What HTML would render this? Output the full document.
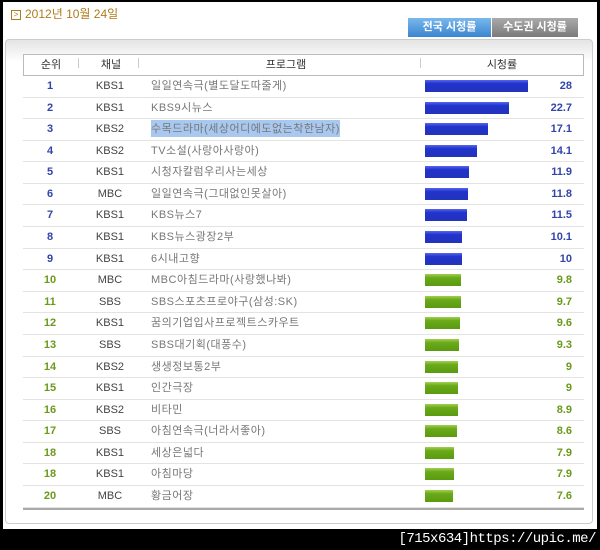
<!DOCTYPE html>
<html><head><meta charset="utf-8"><style>
*{margin:0;padding:0;box-sizing:border-box}
body{width:600px;height:550px;background:#000;position:relative;overflow:hidden;font-family:"Liberation Sans","Noto Sans CJK KR",sans-serif}
#pg{position:absolute;left:3px;top:2px;width:594px;height:527px;background:#fff}
#date{position:absolute;left:8px;top:3px;font-size:12px;color:#b07a1a}
#date span{display:inline-block;width:10px;height:10px;border:1px solid #b07a1a;font-size:8px;line-height:8px;text-align:center;margin-right:4px;vertical-align:1px}
.tab{position:absolute;top:16px;height:19px;font-size:11px;color:#fff;text-align:center;line-height:19px;font-weight:bold}
#t1{left:405px;width:83px;background:linear-gradient(#7ab8ec,#3a84d0)}
#t2{left:489px;width:86px;background:linear-gradient(#aaa,#7a7a7a)}
#box{position:absolute;left:2px;top:37px;width:588px;height:485px;border:1px solid #ccc;border-radius:4px;background:linear-gradient(#e4e4e4,#fff 22px)}
#hd{position:absolute;left:17px;top:14px;width:561px;height:22px;border:1px solid #bbb;background:#fff;font-size:11px;color:#333}
#hd div{position:absolute;top:3px;text-align:center;line-height:14px}
.sep{position:absolute;top:6px;width:1px;height:10px;background:#ccc}
#rows{position:absolute;left:17px;top:36px;width:561px;border-bottom:2px solid #aaa}
.r{height:21.58px;border-bottom:1px solid #e3e3e3;position:relative;font-size:11px}
.r div{position:absolute;top:3px;line-height:14px;height:14px}
.rk{left:0;width:54px;text-align:center;font-weight:bold}
.ch{left:60px;width:54px;text-align:center;color:#444}
.pr{left:128px;color:#777;letter-spacing:0.5px}
.bar{top:4px!important;height:12px!important;left:402px}
.v{right:12px;font-weight:bold}
.b .rk,.b .v{color:#3344aa}.b .bar{background:linear-gradient(#5566ee,#2233cc 30%,#2233bb)}
.g .rk,.g .v{color:#6a9a1a}.g .bar{background:linear-gradient(#a0d050,#6aaa1a 30%,#5a9a10)}
#wm{position:absolute;right:4px;bottom:3px;color:#fff;font-size:14px;font-family:"Liberation Mono",monospace;letter-spacing:-0.5px}
</style></head><body>
<div id="pg">
<div id="date"><span>&gt;</span>2012년 10월 24일</div>
<div class="tab" id="t1">전국 시청률</div><div class="tab" id="t2">수도권 시청률</div>
<div id="box">
<div id="hd"><div style="left:0;width:54px">순위</div><div class="sep" style="left:54px"></div><div style="left:60px;width:54px">채널</div><div class="sep" style="left:114px"></div><div style="left:128px;width:268px">프로그램</div><div class="sep" style="left:396px"></div><div style="left:396px;width:164px">시청률</div></div>
<div id="rows">
<div class="r b"><div class="rk">1</div><div class="ch">KBS1</div><div class="pr">일일연속극(별도달도따줄게)</div><div class="bar" style="width:103px"></div><div class="v">28</div></div>
<div class="r b"><div class="rk">2</div><div class="ch">KBS1</div><div class="pr">KBS9시뉴스</div><div class="bar" style="width:84px"></div><div class="v">22.7</div></div>
<div class="r b"><div class="rk">3</div><div class="ch">KBS2</div><div class="pr" style="background:#a8c8f0;top:1px;height:17px;padding-top:2px">수목드라마(세상어디에도없는착한남자)</div><div class="bar" style="width:63px"></div><div class="v">17.1</div></div>
<div class="r b"><div class="rk">4</div><div class="ch">KBS2</div><div class="pr">TV소설(사랑아사랑아)</div><div class="bar" style="width:52px"></div><div class="v">14.1</div></div>
<div class="r b"><div class="rk">5</div><div class="ch">KBS1</div><div class="pr">시청자칼럼우리사는세상</div><div class="bar" style="width:44px"></div><div class="v">11.9</div></div>
<div class="r b"><div class="rk">6</div><div class="ch">MBC</div><div class="pr">일일연속극(그대없인못살아)</div><div class="bar" style="width:43px"></div><div class="v">11.8</div></div>
<div class="r b"><div class="rk">7</div><div class="ch">KBS1</div><div class="pr">KBS뉴스7</div><div class="bar" style="width:42px"></div><div class="v">11.5</div></div>
<div class="r b"><div class="rk">8</div><div class="ch">KBS1</div><div class="pr">KBS뉴스광장2부</div><div class="bar" style="width:37px"></div><div class="v">10.1</div></div>
<div class="r b"><div class="rk">9</div><div class="ch">KBS1</div><div class="pr">6시내고향</div><div class="bar" style="width:37px"></div><div class="v">10</div></div>
<div class="r g"><div class="rk">10</div><div class="ch">MBC</div><div class="pr">MBC아침드라마(사랑했나봐)</div><div class="bar" style="width:36px"></div><div class="v">9.8</div></div>
<div class="r g"><div class="rk">11</div><div class="ch">SBS</div><div class="pr">SBS스포츠프로야구(삼성:SK)</div><div class="bar" style="width:36px"></div><div class="v">9.7</div></div>
<div class="r g"><div class="rk">12</div><div class="ch">KBS1</div><div class="pr">꿈의기업입사프로젝트스카우트</div><div class="bar" style="width:35px"></div><div class="v">9.6</div></div>
<div class="r g"><div class="rk">13</div><div class="ch">SBS</div><div class="pr">SBS대기획(대풍수)</div><div class="bar" style="width:34px"></div><div class="v">9.3</div></div>
<div class="r g"><div class="rk">14</div><div class="ch">KBS2</div><div class="pr">생생정보통2부</div><div class="bar" style="width:33px"></div><div class="v">9</div></div>
<div class="r g"><div class="rk">15</div><div class="ch">KBS1</div><div class="pr">인간극장</div><div class="bar" style="width:33px"></div><div class="v">9</div></div>
<div class="r g"><div class="rk">16</div><div class="ch">KBS2</div><div class="pr">비타민</div><div class="bar" style="width:33px"></div><div class="v">8.9</div></div>
<div class="r g"><div class="rk">17</div><div class="ch">SBS</div><div class="pr">아침연속극(너라서좋아)</div><div class="bar" style="width:32px"></div><div class="v">8.6</div></div>
<div class="r g"><div class="rk">18</div><div class="ch">KBS1</div><div class="pr">세상은넓다</div><div class="bar" style="width:29px"></div><div class="v">7.9</div></div>
<div class="r g"><div class="rk">18</div><div class="ch">KBS1</div><div class="pr">아침마당</div><div class="bar" style="width:29px"></div><div class="v">7.9</div></div>
<div class="r g"><div class="rk">20</div><div class="ch">MBC</div><div class="pr">황금어장</div><div class="bar" style="width:28px"></div><div class="v">7.6</div></div>
</div>
</div>
</div>
<div id="wm">[715x634]https://upic.me/</div>
</body></html>
